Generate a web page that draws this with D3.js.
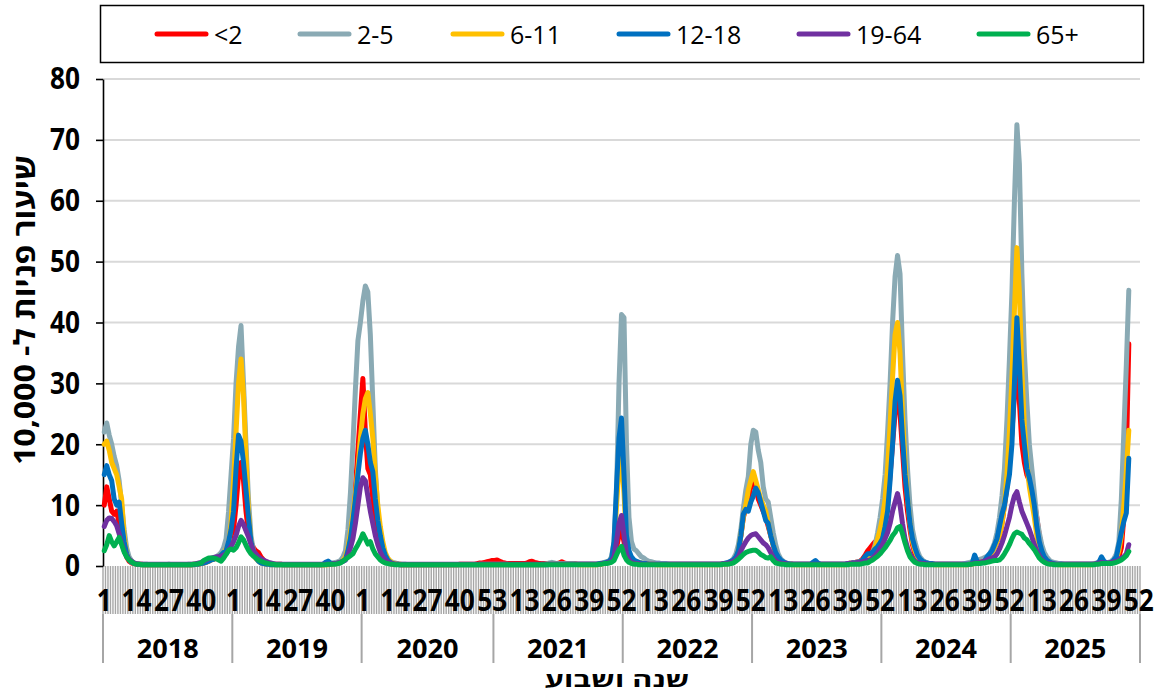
<!DOCTYPE html>
<html><head><meta charset="utf-8">
<script src="https://cdn.jsdelivr.net/npm/d3@7"></script>
<style>body{margin:0;background:#fff}svg{display:block}</style>
</head><body>
<svg id="c" width="1158" height="694"></svg>
<script>
// ---------- data ----------
const years = [2018, 2019, 2020, 2021, 2022, 2023, 2024, 2025];
const weeksPerYear = [52, 52, 53, 52, 52, 52, 52, 52];
const yTicks = [0, 10, 20, 30, 40, 50, 60, 70, 80];
const seriesNames = ["<2", "2-5", "6-11", "12-18", "19-64", "65+"];
const yTitle = "שיעור פניות ל- 10,000";
const xTitle = "שנה ושבוע";

const ageLt2 = [
 10,13,11,9,8.5,9,7,5,3,1.5, 0.8,0.5,0.4,0.3,0.3,0.3,0.2,0.2,0.2,0.2, 0.2,0.2,0.2,0.2,0.2,0.2,0.2,0.2,0.2,0.2, 0.2,0.2,0.2,0.2,0.2,0.2,0.3,0.3,0.3,0.4, 0.5,0.6,0.8,1,1.1,1.3,1.5,1.7,2,2.5, 3.5,5,
 6,10,15,17,14,9,5.5,4,3,2.5, 2.2,1.5,1,0.7,0.5,0.4,0.3,0.3,0.3,0.3, 0.2,0.2,0.2,0.2,0.2,0.2,0.2,0.2,0.2,0.2, 0.2,0.2,0.2,0.2,0.2,0.2,0.2,0.3,0.3,0.3, 0.4,0.5,0.6,0.8,1.1,1.6,2.5,4,8,13, 19,25,
 30.8,22,16,15,11,7,4.5,2.8,1.7,1, 0.6,0.4,0.3,0.3,0.3,0.2,0.2,0.2,0.2,0.2, 0.2,0.2,0.2,0.2,0.2,0.2,0.2,0.2,0.2,0.2, 0.2,0.2,0.2,0.2,0.2,0.2,0.2,0.2,0.2,0.3, 0.3,0.3,0.3,0.3,0.3,0.3,0.4,0.5,0.5,0.6, 0.7,0.8,0.9,
 0.9,1,0.8,0.6,0.5,0.4,0.4,0.4,0.4,0.4, 0.4,0.4,0.4,0.5,0.7,0.8,0.6,0.5,0.4,0.4, 0.4,0.4,0.4,0.4,0.4,0.4,0.5,0.7,0.5,0.4, 0.4,0.4,0.4,0.3,0.3,0.3,0.3,0.3,0.3,0.3, 0.3,0.3,0.3,0.4,0.5,0.6,0.8,1,1.5,3, 5,6,
 4,2,1,0.7,0.5,0.4,0.4,0.3,0.3,0.3, 0.3,0.3,0.3,0.3,0.3,0.3,0.3,0.3,0.3,0.3, 0.3,0.3,0.3,0.3,0.3,0.3,0.3,0.3,0.3,0.3, 0.3,0.3,0.3,0.3,0.3,0.3,0.3,0.3,0.3,0.3, 0.4,0.4,0.5,0.7,1,1.5,2.5,5,8,9.5, 11,13,
 14,13,11,10,9,8,6.5,5,3.5,2, 1.2,0.8,0.6,0.5,0.4,0.4,0.3,0.3,0.3,0.3, 0.3,0.3,0.3,0.3,0.3,0.4,0.3,0.3,0.3,0.3, 0.3,0.3,0.3,0.3,0.3,0.3,0.3,0.3,0.4,0.5, 0.5,0.6,0.7,0.8,1.2,1.8,2.5,3,3.5,4, 4.3,5,
 5.5,7,10,15,20,25,27,25,19,13, 9,6,3.5,2,1.3,0.9,0.6,0.5,0.4,0.4, 0.3,0.3,0.3,0.3,0.3,0.3,0.3,0.3,0.3,0.3, 0.3,0.3,0.3,0.3,0.3,0.3,0.4,0.6,0.6,0.7, 0.8,1,1.3,1.8,2.5,3.2,4,5,7,10, 13,17,
 22,28,33,27,20,17,15,14,12.5,10.5, 8,5,3,1.8,1,0.7,0.5,0.4,0.4,0.3, 0.3,0.3,0.3,0.3,0.3,0.3,0.3,0.3,0.3,0.3, 0.3,0.3,0.3,0.3,0.4,0.5,0.8,0.6,0.5,0.5, 0.6,0.8,1,1.5,3,8,18,36.5
];

const age2to5 = [
 22,23.5,21.5,20,18,16.5,14,10,6,3, 1.5,0.8,0.5,0.4,0.3,0.3,0.3,0.3,0.2,0.2, 0.2,0.2,0.2,0.2,0.2,0.2,0.3,0.2,0.2,0.2, 0.2,0.2,0.2,0.2,0.3,0.3,0.3,0.3,0.4,0.5, 0.6,0.8,1,1.2,1.3,1.5,1.8,2.2,3,4.5, 9,15,
 21,30,36,39.5,30,20,11,5,2.5,1.5, 1,0.7,0.5,0.4,0.4,0.3,0.3,0.3,0.3,0.3, 0.2,0.2,0.2,0.2,0.2,0.2,0.2,0.2,0.2,0.2, 0.2,0.2,0.2,0.2,0.2,0.2,0.2,0.3,0.3,0.4, 0.5,0.6,0.7,0.9,1.5,2.5,6,12,20,29, 37,40,
 43.5,46,45,38,27,16,9,5.5,3,1.8, 1.2,0.8,0.6,0.5,0.4,0.3,0.3,0.3,0.2,0.2, 0.2,0.2,0.2,0.2,0.2,0.2,0.2,0.2,0.2,0.2, 0.2,0.2,0.2,0.2,0.2,0.2,0.2,0.2,0.2,0.2, 0.2,0.2,0.2,0.2,0.2,0.2,0.2,0.3,0.3,0.3, 0.3,0.3,0.3,
 0.3,0.3,0.3,0.3,0.3,0.3,0.2,0.2,0.2,0.2, 0.2,0.2,0.2,0.2,0.2,0.2,0.2,0.2,0.2,0.3, 0.3,0.4,0.5,0.6,0.5,0.4,0.4,0.4,0.4,0.4, 0.4,0.4,0.4,0.3,0.3,0.3,0.3,0.3,0.3,0.3, 0.3,0.3,0.4,0.5,0.6,0.7,0.8,1.5,4,12, 30,41.3,
 40.8,20,8,4,2.8,2.5,2,1.5,1.3,1, 0.8,0.7,0.6,0.5,0.5,0.4,0.4,0.4,0.3,0.3, 0.3,0.3,0.3,0.3,0.3,0.3,0.3,0.3,0.3,0.3, 0.3,0.3,0.3,0.3,0.3,0.3,0.3,0.3,0.3,0.3, 0.3,0.4,0.5,0.8,1.2,2,3.5,6,9.5,12.5, 14.7,20,
 22.3,22,19,17,13,11,10.5,8,5.5,3.5, 2,1.2,0.8,0.5,0.4,0.4,0.3,0.3,0.3,0.3, 0.3,0.3,0.3,0.3,0.3,0.6,0.4,0.3,0.3,0.3, 0.3,0.3,0.3,0.3,0.3,0.3,0.3,0.3,0.4,0.5, 0.5,0.6,0.7,0.8,0.9,1.1,1.3,1.5,2.3,3.5, 5.5,8,
 11,15,22,30,40,47.5,51,48,35,24, 16,10,6,4,2.5,1.5,1,0.7,0.5,0.4, 0.4,0.3,0.3,0.3,0.3,0.3,0.3,0.3,0.3,0.3, 0.3,0.3,0.3,0.4,0.5,0.6,0.7,0.8,1,1.1, 1.2,1.4,1.6,2,2.8,3.8,5.5,8,11.5,16, 24,34,
 45,60,72.5,66,48,35,27,20,16,12, 8,5.5,3.5,2.2,1.5,1,0.7,0.6,0.5,0.4, 0.4,0.3,0.3,0.3,0.3,0.3,0.3,0.3,0.3,0.3, 0.3,0.3,0.3,0.4,0.5,0.7,0.5,0.4,0.5,0.6, 0.8,1.2,2,4,11,22,33,45.3
];

const age6to11 = [
 20,20.5,19,17,16,15,13,11,5,2, 1,0.6,0.4,0.3,0.3,0.2,0.2,0.2,0.2,0.2, 0.2,0.2,0.2,0.2,0.2,0.2,0.2,0.2,0.2,0.2, 0.2,0.2,0.2,0.2,0.2,0.2,0.2,0.3,0.3,0.4, 0.5,0.6,0.8,1,1.1,1.3,1.5,1.8,2,2.8, 3.5,7,
 14,22,30,34,28,18,9,4,2,1.2, 0.8,0.5,0.4,0.3,0.3,0.2,0.2,0.2,0.2,0.2, 0.2,0.2,0.2,0.2,0.2,0.2,0.2,0.2,0.2,0.2, 0.2,0.2,0.2,0.2,0.2,0.2,0.2,0.2,0.2,0.3, 0.3,0.4,0.5,0.6,0.9,1.5,3,5.5,8.5,12, 16,21,
 25,27.5,28.5,25,21,15,10,6.5,4,2.2, 1.3,0.8,0.5,0.4,0.3,0.3,0.2,0.2,0.2,0.2, 0.2,0.2,0.2,0.2,0.2,0.2,0.2,0.2,0.2,0.2, 0.2,0.2,0.2,0.2,0.2,0.2,0.2,0.2,0.2,0.2, 0.2,0.2,0.2,0.2,0.2,0.2,0.2,0.2,0.2,0.2, 0.2,0.2,0.2,
 0.2,0.2,0.2,0.2,0.2,0.2,0.2,0.2,0.2,0.2, 0.2,0.2,0.2,0.2,0.2,0.2,0.2,0.2,0.2,0.2, 0.2,0.3,0.3,0.3,0.3,0.3,0.3,0.3,0.3,0.3, 0.3,0.3,0.3,0.3,0.2,0.2,0.2,0.2,0.2,0.2, 0.2,0.2,0.3,0.3,0.4,0.5,0.6,1,3,10, 16,18,
 12,4,2,1.2,0.8,0.7,0.6,0.5,0.4,0.4, 0.3,0.3,0.3,0.2,0.2,0.2,0.2,0.2,0.2,0.2, 0.2,0.2,0.2,0.2,0.2,0.2,0.2,0.2,0.2,0.2, 0.2,0.2,0.2,0.2,0.2,0.2,0.2,0.2,0.2,0.3, 0.3,0.3,0.4,0.6,0.9,1.4,2.5,5,8,10, 12.5,14,
 15.5,14,12.5,11,10,9,7,5,3.5,2, 1.2,0.8,0.5,0.4,0.3,0.3,0.2,0.2,0.2,0.2, 0.2,0.2,0.2,0.2,0.2,0.3,0.2,0.2,0.2,0.2, 0.2,0.2,0.2,0.2,0.2,0.2,0.2,0.2,0.3,0.3, 0.4,0.5,0.6,0.7,0.8,1,1.3,1.7,2.2,3, 4.5,6,
 8,11,16,23,31,38,40,35,25,17, 11,7,4,2.5,1.5,1,0.7,0.5,0.4,0.3, 0.3,0.2,0.2,0.2,0.2,0.2,0.2,0.2,0.2,0.2, 0.2,0.2,0.2,0.2,0.2,0.3,0.3,0.4,0.5,0.6, 0.7,0.8,1.2,1.6,2.2,3,4,5,7,10, 15,22,
 31,42,52.3,45,32,23,17,13,10.5,8, 5,3,2,1.3,0.8,0.6,0.4,0.3,0.3,0.2, 0.2,0.2,0.2,0.2,0.2,0.2,0.2,0.2,0.2,0.2, 0.2,0.2,0.2,0.3,0.4,0.5,0.5,0.4,0.4,0.5, 0.6,0.8,1.2,2.5,5,10,15.5,22.3
];

const age12to18 = [
 15,16.5,15,14,11,10,10.5,7,4,2, 1,0.6,0.4,0.3,0.3,0.2,0.2,0.2,0.2,0.2, 0.2,0.2,0.2,0.2,0.2,0.2,0.2,0.2,0.2,0.2, 0.2,0.2,0.2,0.2,0.2,0.2,0.2,0.3,0.3,0.4, 0.5,0.6,0.8,1,1.1,1.3,1.5,1.8,2.2,2.5, 4,6,
 9,16,21.5,20.5,17,12.5,8,4,2.2,1.3, 0.8,0.5,0.4,0.3,0.3,0.2,0.2,0.2,0.2,0.2, 0.2,0.2,0.2,0.2,0.2,0.2,0.2,0.2,0.2,0.2, 0.2,0.2,0.2,0.2,0.2,0.2,0.3,0.6,0.8,0.5, 0.4,0.4,0.5,0.6,0.8,1,2.5,4.5,7.5,11, 15,18.5,
 21,22.3,20,17,15.5,11,7.5,5,3,1.8, 1,0.6,0.4,0.3,0.3,0.2,0.2,0.2,0.2,0.2, 0.2,0.2,0.2,0.2,0.2,0.2,0.2,0.2,0.2,0.2, 0.2,0.2,0.2,0.2,0.2,0.2,0.2,0.2,0.2,0.2, 0.2,0.2,0.2,0.2,0.2,0.2,0.2,0.2,0.2,0.2, 0.2,0.2,0.2,
 0.2,0.2,0.2,0.2,0.2,0.2,0.2,0.2,0.2,0.2, 0.2,0.2,0.2,0.2,0.2,0.2,0.2,0.2,0.2,0.2, 0.2,0.2,0.3,0.3,0.3,0.3,0.3,0.3,0.3,0.3, 0.3,0.3,0.3,0.3,0.3,0.3,0.3,0.3,0.3,0.3, 0.3,0.3,0.4,0.4,0.5,0.6,0.8,1.2,4,13, 21,24.3,
 15,5,2.5,1.5,1,0.8,0.6,0.5,0.4,0.4, 0.3,0.3,0.3,0.3,0.3,0.3,0.3,0.3,0.3,0.3, 0.3,0.3,0.3,0.3,0.3,0.3,0.3,0.3,0.3,0.3, 0.3,0.3,0.3,0.3,0.3,0.3,0.3,0.3,0.3,0.3, 0.4,0.5,0.6,0.8,1,1.5,2.5,5,8.5,9.3, 9,10.5,
 11.5,12.8,12,10.5,9,7.5,7,5,3.5,2.2, 1.5,1,0.7,0.5,0.4,0.3,0.3,0.3,0.3,0.3, 0.3,0.3,0.3,0.3,0.6,0.9,0.5,0.3,0.3,0.3, 0.3,0.3,0.3,0.3,0.3,0.3,0.3,0.3,0.4,0.4, 0.5,0.5,0.6,0.7,1,1.6,2,2,2.3,2.8, 3.2,3.8,
 4.5,6.5,9,14,20,27,30.5,28,21,15, 11,7,4.5,3,1.8,1.2,0.8,0.6,0.5,0.4, 0.4,0.3,0.3,0.3,0.3,0.3,0.3,0.3,0.3,0.3, 0.3,0.3,0.3,0.3,0.3,0.3,0.4,1.8,0.8,0.5, 0.5,0.8,1.5,2,2.5,3.5,4.5,6.5,8.5,10, 12.5,15,
 20,30,40.8,33,24,20,16,14.5,12.5,10, 6.5,4,2.5,1.5,1,0.7,0.5,0.4,0.3,0.3, 0.3,0.3,0.3,0.3,0.3,0.3,0.3,0.3,0.3,0.3, 0.3,0.3,0.3,0.3,0.4,0.6,1.5,0.8,0.5,0.5, 0.6,1,1.5,3.5,5.5,7.3,8.7,17.7
];

const age19to64 = [
 6.5,7.5,7.9,7.8,7.3,6.6,5.3,3.8,2.5,1.6, 1.1,0.8,0.5,0.4,0.3,0.3,0.3,0.3,0.3,0.3, 0.3,0.3,0.3,0.3,0.3,0.3,0.3,0.3,0.3,0.3, 0.3,0.3,0.3,0.3,0.3,0.3,0.3,0.4,0.5,0.6, 0.8,1,1.2,1.3,1.4,1.5,1.5,1.6,1.8,2, 2.6,3.2,
 4,5,6.5,7.5,6.8,5.8,4.8,3.5,2.5,2, 1.5,1.2,1,0.8,0.6,0.5,0.4,0.3,0.3,0.3, 0.3,0.3,0.3,0.3,0.3,0.3,0.3,0.3,0.3,0.3, 0.3,0.3,0.3,0.3,0.3,0.3,0.3,0.3,0.3,0.3, 0.4,0.4,0.5,0.6,0.8,1,1.8,3,4.5,7, 10,13,
 14.5,14,11.5,9,7,5,3.5,2.3,1.5,1, 0.7,0.5,0.4,0.3,0.3,0.3,0.3,0.3,0.3,0.3, 0.3,0.3,0.3,0.3,0.3,0.3,0.3,0.3,0.3,0.3, 0.3,0.3,0.3,0.3,0.3,0.3,0.3,0.3,0.3,0.3, 0.3,0.3,0.3,0.3,0.3,0.3,0.3,0.3,0.3,0.3, 0.3,0.3,0.3,
 0.3,0.3,0.3,0.3,0.3,0.3,0.3,0.3,0.3,0.3, 0.3,0.3,0.3,0.3,0.3,0.3,0.3,0.3,0.3,0.3, 0.3,0.3,0.3,0.3,0.3,0.3,0.3,0.3,0.3,0.3, 0.3,0.3,0.3,0.3,0.3,0.3,0.3,0.3,0.3,0.3, 0.3,0.3,0.3,0.4,0.4,0.5,0.6,0.8,1.5,4, 7,8.3,
 5,2,1,0.6,0.5,0.4,0.4,0.3,0.3,0.3, 0.3,0.3,0.3,0.3,0.3,0.3,0.3,0.3,0.3,0.3, 0.3,0.3,0.3,0.3,0.3,0.3,0.3,0.3,0.3,0.3, 0.3,0.3,0.3,0.3,0.3,0.3,0.3,0.3,0.3,0.3, 0.4,0.4,0.5,0.6,0.8,1,1.5,2.5,3.3,4, 4.6,5,
 5.2,5.3,4.8,4.3,3.8,3.5,3,2.2,1.4,0.9, 0.6,0.5,0.4,0.4,0.3,0.3,0.3,0.3,0.3,0.3, 0.3,0.3,0.3,0.3,0.3,0.3,0.3,0.3,0.3,0.3, 0.3,0.3,0.3,0.3,0.3,0.3,0.3,0.3,0.4,0.4, 0.5,0.5,0.6,0.6,0.7,0.8,0.9,1,1.3,1.7, 2.2,3,
 3.5,4.5,5.5,7,9,10.5,11.9,10,7,4.5, 3,2,1.3,0.8,0.6,0.5,0.4,0.4,0.3,0.3, 0.3,0.3,0.3,0.3,0.3,0.3,0.3,0.3,0.3,0.3, 0.3,0.3,0.3,0.3,0.3,0.3,0.4,0.5,0.5,0.6, 0.7,0.8,1,1.2,1.3,1.5,2,2.8,3.8,5, 6.5,8,
 10,11.5,12.2,10.5,9,8,7,6,4.8,3.5, 2.5,1.7,1.1,0.7,0.5,0.4,0.4,0.3,0.3,0.3, 0.3,0.3,0.3,0.3,0.3,0.3,0.3,0.3,0.3,0.3, 0.3,0.3,0.3,0.3,0.4,0.5,0.6,0.5,0.5,0.5, 0.6,0.7,0.8,1,1.3,1.5,2,3.5
];

const age65plus = [
 2.5,3.5,5,4,3.3,4,4.7,3.5,2.3,1.5, 1,0.7,0.4,0.3,0.3,0.2,0.2,0.2,0.2,0.2, 0.2,0.2,0.2,0.2,0.2,0.2,0.2,0.2,0.2,0.2, 0.2,0.2,0.2,0.2,0.2,0.2,0.3,0.3,0.4,0.5, 0.9,1.1,1.3,1.3,1.3,1.2,1,0.8,1.3,1.9, 2.6,2.8,
 2.6,3,3.8,4.8,4.3,3.4,2.6,2,1.6,1.3, 1,0.8,0.6,0.5,0.4,0.3,0.3,0.2,0.2,0.2, 0.2,0.2,0.2,0.2,0.2,0.2,0.2,0.2,0.2,0.2, 0.2,0.2,0.2,0.2,0.2,0.2,0.2,0.2,0.3,0.3, 0.3,0.3,0.4,0.5,0.8,1.1,1.4,1.7,2,2.8, 3.5,4.3,
 5.3,4.5,3.6,4,2.8,2,1.5,1,0.7,0.5, 0.4,0.3,0.3,0.2,0.2,0.2,0.2,0.2,0.2,0.2, 0.2,0.2,0.2,0.2,0.2,0.2,0.2,0.2,0.2,0.2, 0.2,0.2,0.2,0.2,0.2,0.2,0.2,0.2,0.2,0.2, 0.2,0.2,0.2,0.2,0.2,0.2,0.2,0.2,0.2,0.2, 0.2,0.2,0.2,
 0.2,0.2,0.2,0.2,0.2,0.2,0.2,0.2,0.2,0.2, 0.2,0.2,0.2,0.2,0.2,0.2,0.2,0.2,0.2,0.2, 0.2,0.2,0.2,0.2,0.2,0.2,0.2,0.2,0.2,0.2, 0.2,0.2,0.2,0.2,0.2,0.2,0.2,0.2,0.2,0.2, 0.2,0.2,0.3,0.3,0.4,0.4,0.5,0.6,0.9,1.8, 2.7,3.2,
 1.8,1,0.6,0.4,0.3,0.3,0.2,0.2,0.2,0.2, 0.2,0.2,0.2,0.2,0.2,0.2,0.2,0.2,0.2,0.2, 0.2,0.2,0.2,0.2,0.2,0.2,0.2,0.2,0.2,0.2, 0.2,0.2,0.2,0.2,0.2,0.2,0.2,0.2,0.2,0.2, 0.3,0.3,0.3,0.4,0.5,0.8,1.1,1.5,1.9,2.2, 2.4,2.5,
 2.6,2.6,2.3,1.9,1.7,1.4,1.3,1.5,0.9,0.5, 0.4,0.3,0.3,0.2,0.2,0.2,0.2,0.2,0.2,0.2, 0.2,0.2,0.2,0.2,0.2,0.2,0.2,0.2,0.2,0.2, 0.2,0.2,0.2,0.2,0.2,0.2,0.2,0.2,0.2,0.3, 0.3,0.3,0.3,0.3,0.4,0.5,0.5,0.8,1,1.3, 1.6,2,
 2.5,3,3.6,4.2,5,5.5,6.3,6.5,5.3,3.8, 2.5,1.5,1,0.6,0.4,0.3,0.3,0.2,0.2,0.2, 0.2,0.2,0.2,0.2,0.2,0.2,0.2,0.2,0.2,0.2, 0.2,0.2,0.2,0.2,0.2,0.3,0.3,0.4,0.4,0.4, 0.5,0.5,0.6,0.7,0.8,0.9,0.9,1,1.4,2, 2.7,3.5,
 4.5,5.3,5.6,5.4,5.2,4.6,4.3,3.7,3.2,2.7, 2,1.3,0.9,0.6,0.4,0.3,0.3,0.2,0.2,0.2, 0.2,0.2,0.2,0.2,0.2,0.2,0.2,0.2,0.2,0.2, 0.2,0.2,0.2,0.2,0.3,0.3,0.4,0.4,0.4,0.4, 0.4,0.5,0.6,0.8,1,1.3,1.7,2.4
];

// ---------- styles ----------
const seriesData = [ageLt2, age2to5, age6to11, age12to18, age19to64, age65plus];
const seriesColors = ["#FF0000", "#8AAAB4", "#FFC000", "#0070C0", "#7030A0", "#00B050"];
const FONT = "'Open Sans','DejaVu Sans',sans-serif";
const M = {left: 103, right: 1140, top: 79, bottom: 566};

// categories
const categories = [];
years.forEach((yr, k) => { for (let w = 1; w <= weeksPerYear[k]; w++) categories.push({year: yr, week: w}); });
const nCat = categories.length;

const svg = d3.select("#c");
const x = d3.scaleLinear().domain([0, nCat]).range([M.left, M.right]);
const y = d3.scaleLinear().domain([0, 80]).range([M.bottom, M.top]);

// gridlines
svg.append("g").selectAll("line").data(yTicks.filter(d => d > 0)).join("line")
  .attr("x1", M.left).attr("x2", M.right)
  .attr("y1", d => y(d)).attr("y2", d => y(d))
  .attr("stroke", "#D9D9D9").attr("stroke-width", 2);

// x category band ticks
const bandG = svg.append("g");
bandG.selectAll("line").data(d3.range(nCat + 1)).join("line")
  .attr("x1", d => x(d)).attr("x2", d => x(d))
  .attr("y1", M.bottom).attr("y2", 614)
  .attr("stroke", "#A6A6A6").attr("stroke-width", 1.4);

// year separators
const yearStarts = [];
{ let s = 0; weeksPerYear.forEach(n => { yearStarts.push(s); s += n; }); yearStarts.push(s); }
svg.append("g").selectAll("line").data(yearStarts).join("line")
  .attr("x1", d => x(d)).attr("x2", d => x(d))
  .attr("y1", 614).attr("y2", 663)
  .attr("stroke", "#A6A6A6").attr("stroke-width", 2);

// y axis
const yAxis = svg.append("g").attr("transform", `translate(${M.left},0)`)
  .call(d3.axisLeft(y).tickValues(yTicks).tickSize(7).tickSizeOuter(0).tickPadding(16));
yAxis.select(".domain").attr("stroke", "#000").attr("stroke-width", 1.6);
yAxis.selectAll(".tick line").attr("stroke", "#000").attr("stroke-width", 1.6);
yAxis.selectAll(".tick text")
  .attr("font-family", FONT).attr("font-weight", "bold").attr("font-size", 30).attr("fill", "#000")
  .attr("dy", "0.33em")
  .attr("textLength", d => String(d).length * 15).attr("lengthAdjust", "spacingAndGlyphs");

// series lines
const line = d3.line().x((d, i) => x(i + 0.5)).y(d => y(d));
svg.append("g").selectAll("path").data(seriesData).join("path")
  .attr("d", d => line(d)).attr("fill", "none")
  .attr("stroke", (d, i) => seriesColors[i]).attr("stroke-width", 5)
  .attr("stroke-linejoin", "round").attr("stroke-linecap", "round");

// category labels (every 13th category)
const labelIdx = d3.range(0, nCat, 13);
svg.append("g").selectAll("text").data(labelIdx).join("text")
  .attr("x", d => x(d + 0.5)).attr("y", 599)
  .attr("text-anchor", "middle").attr("dominant-baseline", "central")
  .attr("font-family", FONT).attr("font-weight", "bold").attr("font-size", 30)
  .attr("textLength", d => String(categories[d].week).length * 15).attr("lengthAdjust", "spacingAndGlyphs")
  .text(d => categories[d].week);

// year labels
svg.append("g").selectAll("text").data(years).join("text")
  .attr("x", (d, k) => x((yearStarts[k] + yearStarts[k + 1]) / 2)).attr("y", 647)
  .attr("text-anchor", "middle").attr("dominant-baseline", "central")
  .attr("font-family", FONT).attr("font-weight", "bold").attr("font-size", 27)
  .attr("textLength", 62).attr("lengthAdjust", "spacingAndGlyphs")
  .text(d => d);

// axis titles
svg.append("text").attr("transform", "translate(23,310) rotate(-90)")
  .attr("text-anchor", "middle").attr("dominant-baseline", "central").attr("direction", "rtl")
  .attr("font-family", FONT).attr("font-weight", "bold").attr("font-size", 29)
  .attr("textLength", 310).attr("lengthAdjust", "spacingAndGlyphs")
  .text(yTitle);
svg.append("text").attr("x", 617).attr("y", 679)
  .attr("text-anchor", "middle").attr("dominant-baseline", "central").attr("direction", "rtl")
  .attr("font-family", FONT).attr("font-weight", "bold").attr("font-size", 21)
  .attr("textLength", 145).attr("lengthAdjust", "spacingAndGlyphs")
  .text(xTitle);

// legend
svg.append("rect").attr("x", 100.5).attr("y", 5.5).attr("width", 1043).attr("height", 57)
  .attr("fill", "#fff").attr("stroke", "#000").attr("stroke-width", 1.5);
const legX = [157, 300, 453, 619, 799, 979];
const leg = svg.append("g").selectAll("g").data(seriesNames).join("g")
  .attr("transform", (d, i) => `translate(${legX[i]},34)`);
leg.append("line").attr("x1", 0).attr("x2", 49).attr("y1", 0).attr("y2", 0)
  .attr("stroke", (d, i) => seriesColors[i]).attr("stroke-width", 5).attr("stroke-linecap", "round");
leg.append("text").attr("x", 57).attr("y", 0).attr("dominant-baseline", "central")
  .attr("font-family", FONT).attr("font-size", 25).attr("fill", "#000")
  .text(d => d);
</script>
</body></html>
